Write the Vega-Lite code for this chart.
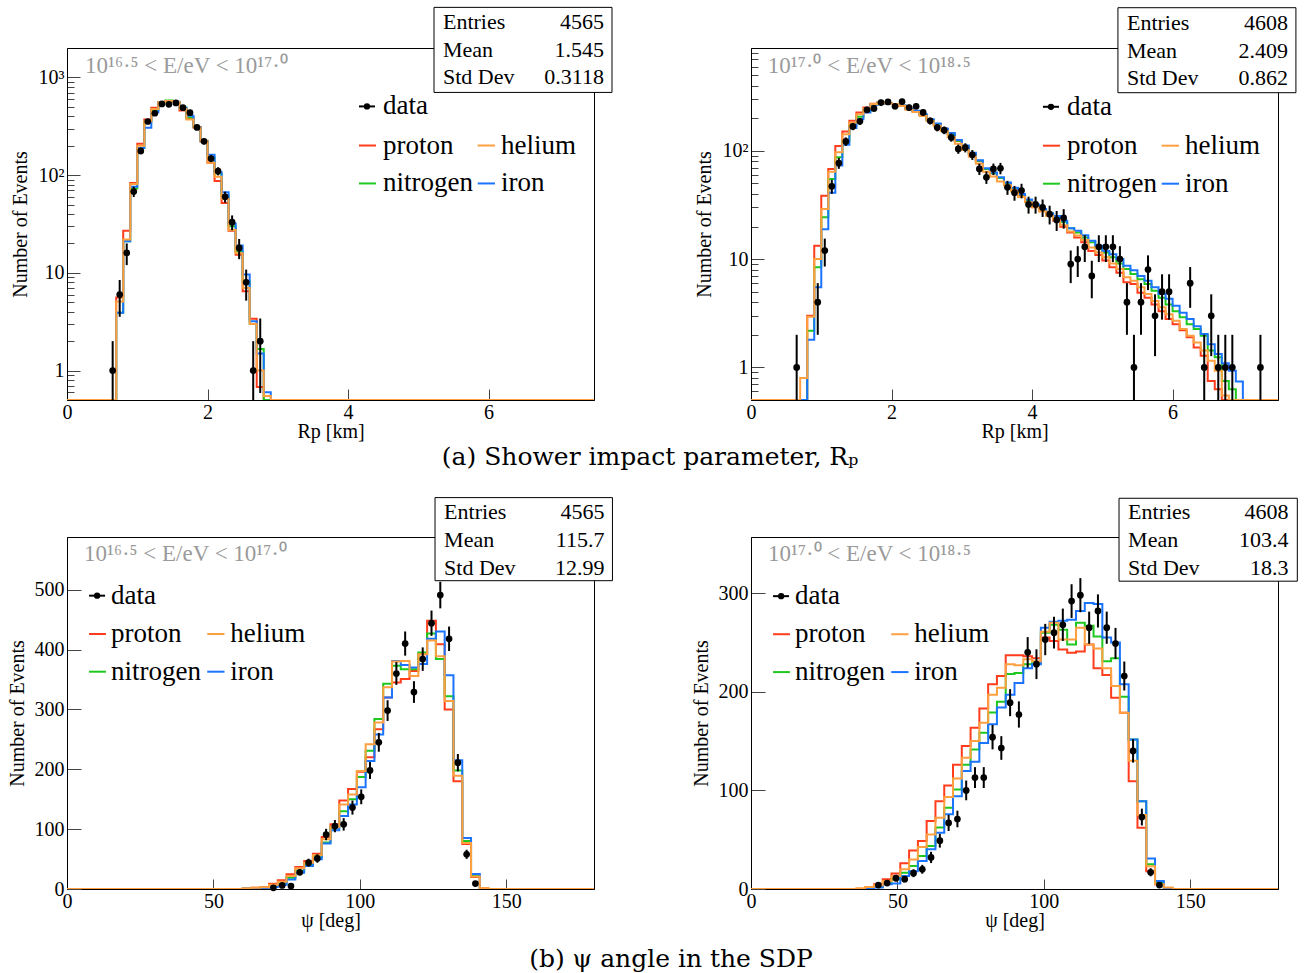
{
  "$schema": "https://vega.github.io/schema/vega-lite/v6.json",
  "background": "white",
  "padding": {"left": 6, "top": 6, "right": 8, "bottom": 5},
  "config": {
    "font": "Liberation Serif",
    "view": {"stroke": "#000", "strokeWidth": 1},
    "axis": {"labelFont": "Liberation Serif", "labelFontSize": 20, "labelColor": "#000", "titleFont": "Liberation Serif", "titleFontSize": 20, "titleFontWeight": "normal", "titleColor": "#000", "domainColor": "#000", "tickColor": "#444", "grid": false, "labelOverlap": false, "labelFlush": false},
    "text": {"font": "Liberation Serif"}
  },
  "datasets": {
    "one": [{}],
    "mc1": [
      {"x":0,"proton":null,"helium":null,"nitrogen":null,"iron":null},
      {"x":0.7,"proton":5.6,"helium":5.1,"nitrogen":3.9,"iron":3.9},
      {"x":0.8,"proton":27,"helium":22,"nitrogen":21,"iron":21},
      {"x":0.9,"proton":83,"helium":81,"nitrogen":73,"iron":76},
      {"x":1.0,"proton":210,"helium":200,"nitrogen":190,"iron":190},
      {"x":1.1,"proton":370,"helium":355,"nitrogen":350,"iron":305},
      {"x":1.2,"proton":490,"helium":475,"nitrogen":458,"iron":440},
      {"x":1.3,"proton":560,"helium":560,"nitrogen":555,"iron":560},
      {"x":1.4,"proton":575,"helium":575,"nitrogen":580,"iron":575},
      {"x":1.5,"proton":560,"helium":560,"nitrogen":560,"iron":565},
      {"x":1.6,"proton":458,"helium":475,"nitrogen":490,"iron":490},
      {"x":1.7,"proton":380,"helium":372,"nitrogen":390,"iron":405},
      {"x":1.8,"proton":307,"helium":307,"nitrogen":310,"iron":310},
      {"x":1.9,"proton":222,"helium":222,"nitrogen":225,"iron":222},
      {"x":2.0,"proton":134,"helium":134,"nitrogen":153,"iron":162},
      {"x":2.1,"proton":87,"helium":96,"nitrogen":104,"iron":107},
      {"x":2.2,"proton":52,"helium":57,"nitrogen":62,"iron":67},
      {"x":2.3,"proton":27,"helium":27.5,"nitrogen":30,"iron":32},
      {"x":2.4,"proton":15.3,"helium":15.9,"nitrogen":16.6,"iron":19},
      {"x":2.5,"proton":6.5,"helium":7,"nitrogen":8.2,"iron":9.6},
      {"x":2.6,"proton":3.4,"helium":3.0,"nitrogen":3.0,"iron":3.2},
      {"x":2.7,"proton":0.68,"helium":1.0,"nitrogen":1.66,"iron":1.5},
      {"x":2.8,"proton":null,"helium":0.55,"nitrogen":null,"iron":0.6},
      {"x":2.9,"proton":null,"helium":null,"nitrogen":null,"iron":null},
      {"x":7.5,"proton":null,"helium":null,"nitrogen":null,"iron":null}
    ],
    "d1": [
      {"x":0.65,"n":1,"lo":null,"hi":2},{"x":0.75,"n":6,"lo":3.55,"hi":8.45},{"x":0.85,"n":16,"lo":12,"hi":20},{"x":0.95,"n":68,"lo":59.8,"hi":76.2},{"x":1.05,"n":177,"lo":163.7,"hi":190.3},{"x":1.15,"n":354,"lo":335.2,"hi":372.8},{"x":1.25,"n":430,"lo":409.3,"hi":450.7},{"x":1.35,"n":535,"lo":511.9,"hi":558.1},{"x":1.45,"n":530,"lo":507,"hi":553},{"x":1.55,"n":548,"lo":524.6,"hi":571.4},{"x":1.65,"n":490,"lo":467.9,"hi":512.1},{"x":1.75,"n":436,"lo":415.1,"hi":456.9},{"x":1.85,"n":308,"lo":290.5,"hi":325.5},{"x":1.95,"n":222,"lo":207.1,"hi":236.9},{"x":2.05,"n":148,"lo":135.8,"hi":160.2},{"x":2.15,"n":110,"lo":99.5,"hi":120.5},{"x":2.25,"n":60,"lo":52.3,"hi":67.7},{"x":2.35,"n":33,"lo":27.3,"hi":38.7},{"x":2.45,"n":18,"lo":13.8,"hi":22.2},{"x":2.55,"n":8,"lo":5.2,"hi":10.8},{"x":2.65,"n":1,"lo":null,"hi":2},{"x":2.75,"n":2,"lo":0.59,"hi":3.41}
    ],
    "mc2": [
      {"x":0,"proton":null,"helium":null,"nitrogen":null,"iron":null},
      {"x":0.7,"proton":null,"helium":0.8,"nitrogen":null,"iron":null},
      {"x":0.8,"proton":3.0,"helium":2.93,"nitrogen":2.18,"iron":1.8},
      {"x":0.9,"proton":13.3,"helium":10,"nitrogen":8.4,"iron":5.5},
      {"x":1.0,"proton":38.4,"helium":29,"nitrogen":24.3,"iron":18.9},
      {"x":1.1,"proton":68,"helium":64,"nitrogen":55,"iron":41},
      {"x":1.2,"proton":111,"helium":97,"nitrogen":87,"iron":73},
      {"x":1.3,"proton":151,"helium":142,"nitrogen":124,"iron":114},
      {"x":1.4,"proton":189,"helium":183,"nitrogen":170,"iron":162},
      {"x":1.5,"proton":226,"helium":218,"nitrogen":206,"iron":196},
      {"x":1.6,"proton":251,"helium":246,"nitrogen":234,"iron":226},
      {"x":1.7,"proton":272,"helium":270,"nitrogen":268,"iron":266},
      {"x":1.8,"proton":280,"helium":279,"nitrogen":279,"iron":278},
      {"x":1.9,"proton":275,"helium":274,"nitrogen":273,"iron":272},
      {"x":2.0,"proton":270,"helium":270,"nitrogen":270,"iron":270},
      {"x":2.1,"proton":260,"helium":259,"nitrogen":261,"iron":262},
      {"x":2.2,"proton":242,"helium":240,"nitrogen":243,"iron":245},
      {"x":2.3,"proton":231,"helium":228,"nitrogen":232,"iron":234},
      {"x":2.4,"proton":214,"helium":210,"nitrogen":215,"iron":218},
      {"x":2.5,"proton":192,"helium":188,"nitrogen":193,"iron":196},
      {"x":2.6,"proton":176,"helium":170,"nitrogen":177,"iron":179},
      {"x":2.7,"proton":158,"helium":152,"nitrogen":159,"iron":161},
      {"x":2.8,"proton":142,"helium":134,"nitrogen":143,"iron":146},
      {"x":2.9,"proton":123,"helium":116,"nitrogen":124,"iron":126},
      {"x":3.0,"proton":109,"helium":102,"nitrogen":110,"iron":112},
      {"x":3.1,"proton":93,"helium":88,"nitrogen":94,"iron":96},
      {"x":3.2,"proton":80,"helium":76,"nitrogen":81,"iron":82},
      {"x":3.3,"proton":68,"helium":64,"nitrogen":68,"iron":69},
      {"x":3.4,"proton":62,"helium":58,"nitrogen":62,"iron":63},
      {"x":3.5,"proton":56,"helium":52,"nitrogen":56,"iron":57},
      {"x":3.6,"proton":50,"helium":48,"nitrogen":50,"iron":51},
      {"x":3.7,"proton":44,"helium":42,"nitrogen":45,"iron":45.5},
      {"x":3.8,"proton":39,"helium":37.5,"nitrogen":39.5,"iron":40},
      {"x":3.9,"proton":34.7,"helium":33.5,"nitrogen":35,"iron":35.5},
      {"x":4.0,"proton":31,"helium":30,"nitrogen":31.5,"iron":32},
      {"x":4.1,"proton":28,"helium":27.5,"nitrogen":28.5,"iron":29},
      {"x":4.2,"proton":25.5,"helium":25,"nitrogen":26,"iron":26.5},
      {"x":4.3,"proton":22.6,"helium":23,"nitrogen":24.5,"iron":25},
      {"x":4.4,"proton":19.9,"helium":20.5,"nitrogen":22,"iron":22.6},
      {"x":4.5,"proton":17.6,"helium":18,"nitrogen":19.3,"iron":19.3},
      {"x":4.6,"proton":15.8,"helium":16.5,"nitrogen":17.6,"iron":18.3},
      {"x":4.7,"proton":14.3,"helium":15,"nitrogen":15.8,"iron":16.6},
      {"x":4.8,"proton":11.9,"helium":12.8,"nitrogen":14.3,"iron":14.8},
      {"x":4.9,"proton":10.9,"helium":11.5,"nitrogen":12.6,"iron":13.3},
      {"x":5.0,"proton":9.7,"helium":10.4,"nitrogen":11.5,"iron":11.9},
      {"x":5.1,"proton":8.4,"helium":9.1,"nitrogen":10.4,"iron":11.1},
      {"x":5.2,"proton":7.5,"helium":8.1,"nitrogen":9.1,"iron":10},
      {"x":5.3,"proton":6.1,"helium":6.8,"nitrogen":8.1,"iron":8.7},
      {"x":5.4,"proton":5.9,"helium":6.3,"nitrogen":7.3,"iron":7.9},
      {"x":5.5,"proton":4.9,"helium":5.5,"nitrogen":6.5,"iron":7.0},
      {"x":5.6,"proton":4.4,"helium":4.75,"nitrogen":5.9,"iron":6.3},
      {"x":5.7,"proton":3.8,"helium":4.1,"nitrogen":5.1,"iron":5.5},
      {"x":5.8,"proton":3.3,"helium":3.6,"nitrogen":4.4,"iron":4.75},
      {"x":5.9,"proton":2.8,"helium":3.1,"nitrogen":3.8,"iron":4.3},
      {"x":6.0,"proton":2.5,"helium":2.7,"nitrogen":3.3,"iron":3.7},
      {"x":6.1,"proton":2.2,"helium":2.26,"nitrogen":2.9,"iron":3.2},
      {"x":6.2,"proton":1.9,"helium":1.96,"nitrogen":2.5,"iron":2.8},
      {"x":6.3,"proton":1.53,"helium":1.7,"nitrogen":2.26,"iron":2.4},
      {"x":6.4,"proton":1.28,"helium":1.43,"nitrogen":1.96,"iron":2.03},
      {"x":6.5,"proton":0.75,"helium":1.15,"nitrogen":1.43,"iron":1.64},
      {"x":6.6,"proton":0.63,"helium":0.93,"nitrogen":1.24,"iron":1.33},
      {"x":6.7,"proton":null,"helium":0.55,"nitrogen":0.75,"iron":1.09},
      {"x":6.8,"proton":null,"helium":null,"nitrogen":0.63,"iron":0.93},
      {"x":6.9,"proton":null,"helium":null,"nitrogen":null,"iron":0.74},
      {"x":7.0,"proton":null,"helium":null,"nitrogen":null,"iron":null},
      {"x":7.5,"proton":null,"helium":null,"nitrogen":null,"iron":null}
    ],
    "d2": [
      {"x":0.65,"n":1,"lo":null,"hi":2},{"x":0.95,"n":4,"lo":2,"hi":6},{"x":1.05,"n":12,"lo":8.54,"hi":15.46},{"x":1.15,"n":47,"lo":40.1,"hi":53.9},{"x":1.25,"n":77,"lo":68.2,"hi":85.8},{"x":1.35,"n":122,"lo":111,"hi":133},{"x":1.45,"n":168,"lo":155,"hi":181},{"x":1.55,"n":187,"lo":173.3,"hi":200.7},{"x":1.65,"n":239,"lo":223.5,"hi":254.5},{"x":1.75,"n":246,"lo":230.3,"hi":261.7},{"x":1.85,"n":279,"lo":262.3,"hi":295.7},{"x":1.95,"n":283,"lo":266.2,"hi":299.8},{"x":2.05,"n":258,"lo":241.9,"hi":274.1},{"x":2.15,"n":285,"lo":268.1,"hi":301.9},{"x":2.25,"n":251,"lo":235.2,"hi":266.8},{"x":2.35,"n":258,"lo":241.9,"hi":274.1},{"x":2.45,"n":226,"lo":211,"hi":241},{"x":2.55,"n":189,"lo":175.3,"hi":202.7},{"x":2.65,"n":164,"lo":151.2,"hi":176.8},{"x":2.75,"n":155,"lo":142.5,"hi":167.5},{"x":2.85,"n":133,"lo":121.5,"hi":144.5},{"x":2.95,"n":104,"lo":93.8,"hi":114.2},{"x":3.05,"n":107,"lo":96.7,"hi":117.3},{"x":3.15,"n":92,"lo":82.4,"hi":101.6},{"x":3.25,"n":68,"lo":59.8,"hi":76.2},{"x":3.35,"n":57,"lo":49.5,"hi":64.5},{"x":3.45,"n":68,"lo":59.8,"hi":76.2},{"x":3.55,"n":69,"lo":60.7,"hi":77.3},{"x":3.65,"n":46,"lo":39.2,"hi":52.8},{"x":3.75,"n":41,"lo":34.6,"hi":47.4},{"x":3.85,"n":43,"lo":36.4,"hi":49.6},{"x":3.95,"n":32,"lo":26.3,"hi":37.7},{"x":4.05,"n":32,"lo":26.3,"hi":37.7},{"x":4.15,"n":30,"lo":24.5,"hi":35.5},{"x":4.25,"n":26,"lo":20.9,"hi":31.1},{"x":4.35,"n":23,"lo":18.2,"hi":27.8},{"x":4.45,"n":24,"lo":19.1,"hi":28.9},{"x":4.55,"n":9,"lo":6,"hi":12},{"x":4.65,"n":10,"lo":6.84,"hi":13.16},{"x":4.75,"n":13,"lo":9.39,"hi":16.61},{"x":4.85,"n":7,"lo":4.35,"hi":9.65},{"x":4.95,"n":13,"lo":9.39,"hi":16.61},{"x":5.05,"n":13,"lo":9.39,"hi":16.61},{"x":5.15,"n":13,"lo":9.39,"hi":16.61},{"x":5.25,"n":10,"lo":6.84,"hi":13.16},{"x":5.35,"n":4,"lo":2,"hi":6},{"x":5.45,"n":1,"lo":null,"hi":2},{"x":5.55,"n":4,"lo":2,"hi":6},{"x":5.65,"n":8,"lo":5.17,"hi":10.83},{"x":5.75,"n":3,"lo":1.27,"hi":4.73},{"x":5.85,"n":5,"lo":2.76,"hi":7.24},{"x":5.95,"n":5,"lo":2.76,"hi":7.24},{"x":6.25,"n":6,"lo":3.55,"hi":8.45},{"x":6.45,"n":1,"lo":null,"hi":2},{"x":6.55,"n":3,"lo":1.27,"hi":4.73},{"x":6.65,"n":1,"lo":null,"hi":2},{"x":6.75,"n":1,"lo":null,"hi":2},{"x":6.85,"n":1,"lo":null,"hi":2},{"x":7.25,"n":1,"lo":null,"hi":2}
    ],
    "mc3": [
      {"x":0,"proton":0,"helium":0,"nitrogen":0,"iron":0},
      {"x":60,"proton":1,"helium":1,"nitrogen":0.5,"iron":0.3},
      {"x":63,"proton":2,"helium":2,"nitrogen":1,"iron":1},
      {"x":66,"proton":3,"helium":3,"nitrogen":2,"iron":1},
      {"x":69,"proton":8.9,"helium":7,"nitrogen":4.5,"iron":3.3},
      {"x":72,"proton":14.5,"helium":12.3,"nitrogen":8.9,"iron":7},
      {"x":75,"proton":24.5,"helium":21.7,"nitrogen":19,"iron":16},
      {"x":78,"proton":36.8,"helium":34.6,"nitrogen":30,"iron":27},
      {"x":81,"proton":46.8,"helium":44,"nitrogen":40,"iron":38.6},
      {"x":84,"proton":59,"helium":57,"nitrogen":52.5,"iron":49.7},
      {"x":87,"proton":87,"helium":83,"nitrogen":77.5,"iron":76},
      {"x":90,"proton":108,"helium":104,"nitrogen":103,"iron":98},
      {"x":93,"proton":148,"helium":141,"nitrogen":130,"iron":122},
      {"x":96,"proton":167,"helium":158,"nitrogen":150,"iron":141},
      {"x":99,"proton":196,"helium":197,"nitrogen":187,"iron":170},
      {"x":102,"proton":220,"helium":242,"nitrogen":231,"iron":214},
      {"x":105,"proton":267,"helium":278,"nitrogen":284,"iron":258},
      {"x":108,"proton":320,"helium":337,"nitrogen":343,"iron":320},
      {"x":111,"proton":345,"helium":380,"nitrogen":373,"iron":381},
      {"x":114,"proton":351,"helium":381,"nitrogen":367,"iron":374},
      {"x":117,"proton":364,"helium":356,"nitrogen":367,"iron":370},
      {"x":120,"proton":392,"helium":392,"nitrogen":395,"iron":376},
      {"x":123,"proton":448,"helium":415,"nitrogen":427,"iron":418},
      {"x":126,"proton":409,"helium":389,"nitrogen":384,"iron":430},
      {"x":129,"proton":300,"helium":314,"nitrogen":322,"iron":357},
      {"x":132,"proton":180,"helium":189,"nitrogen":198,"iron":215},
      {"x":135,"proton":75,"helium":77,"nitrogen":80,"iron":85},
      {"x":138,"proton":20,"helium":21,"nitrogen":22,"iron":25},
      {"x":141,"proton":0,"helium":1.5,"nitrogen":0,"iron":0},
      {"x":144,"proton":0,"helium":0,"nitrogen":0,"iron":0},
      {"x":180,"proton":0,"helium":0,"nitrogen":0,"iron":0}
    ],
    "d3": [
      {"x":70.5,"n":2,"lo":0.59,"hi":3.41},{"x":73.5,"n":6,"lo":3.55,"hi":8.45},{"x":76.5,"n":5,"lo":2.76,"hi":7.24},{"x":79.5,"n":28,"lo":22.7,"hi":33.3},{"x":82.5,"n":44,"lo":37.4,"hi":50.6},{"x":85.5,"n":51,"lo":43.9,"hi":58.1},{"x":88.5,"n":91,"lo":81.5,"hi":100.5},{"x":91.5,"n":105,"lo":94.8,"hi":115.2},{"x":94.5,"n":108,"lo":97.6,"hi":118.4},{"x":97.5,"n":136,"lo":124.3,"hi":147.7},{"x":100.5,"n":154,"lo":141.6,"hi":166.4},{"x":103.5,"n":198,"lo":183.9,"hi":212.1},{"x":106.5,"n":245,"lo":229.3,"hi":260.7},{"x":109.5,"n":298,"lo":280.7,"hi":315.3},{"x":112.5,"n":360,"lo":341,"hi":379},{"x":115.5,"n":410,"lo":389.8,"hi":430.2},{"x":118.5,"n":329,"lo":310.9,"hi":347.1},{"x":121.5,"n":384,"lo":364.4,"hi":403.6},{"x":124.5,"n":444,"lo":422.9,"hi":465.1},{"x":127.5,"n":491,"lo":468.8,"hi":513.2},{"x":130.5,"n":418,"lo":397.6,"hi":438.4},{"x":133.5,"n":211,"lo":196.5,"hi":225.5},{"x":136.5,"n":58,"lo":50.4,"hi":65.6},{"x":139.5,"n":9,"lo":6,"hi":12}
    ],
    "mc4": [
      {"x":0,"proton":0,"helium":0,"nitrogen":0,"iron":0},
      {"x":36,"proton":0,"helium":0.7,"nitrogen":0,"iron":0},
      {"x":39,"proton":1.3,"helium":2,"nitrogen":0.5,"iron":0.5},
      {"x":42,"proton":4.7,"helium":3.7,"nitrogen":2,"iron":1.4},
      {"x":45,"proton":9.8,"helium":8,"nitrogen":5.4,"iron":4.7},
      {"x":48,"proton":15.8,"helium":13.2,"nitrogen":9.8,"iron":5.7},
      {"x":51,"proton":26,"helium":20,"nitrogen":16.5,"iron":13.2},
      {"x":54,"proton":39,"helium":30,"nitrogen":23.4,"iron":18},
      {"x":57,"proton":48.6,"helium":42.6,"nitrogen":33.5,"iron":28.4},
      {"x":60,"proton":69,"helium":55.4,"nitrogen":43.6,"iron":40.3},
      {"x":63,"proton":89,"helium":72.3,"nitrogen":62.3,"iron":57},
      {"x":66,"proton":105,"helium":93.2,"nitrogen":82.4,"iron":75.7},
      {"x":69,"proton":126,"helium":112,"nitrogen":101,"iron":94},
      {"x":72,"proton":145,"helium":133,"nitrogen":126,"iron":119.6},
      {"x":75,"proton":163.5,"helium":150,"nitrogen":141.6,"iron":129},
      {"x":78,"proton":183,"helium":168.6,"nitrogen":158.5,"iron":148},
      {"x":81,"proton":207.6,"helium":197,"nitrogen":179,"iron":167},
      {"x":84,"proton":216,"helium":204,"nitrogen":190,"iron":184},
      {"x":87,"proton":237,"helium":228,"nitrogen":218,"iron":197},
      {"x":90,"proton":237,"helium":227,"nitrogen":219,"iron":209},
      {"x":93,"proton":236,"helium":233,"nitrogen":228,"iron":224},
      {"x":96,"proton":234,"helium":231,"nitrogen":229,"iron":228},
      {"x":99,"proton":255,"helium":261,"nitrogen":260,"iron":265},
      {"x":102,"proton":251.5,"helium":270,"nitrogen":268,"iron":271},
      {"x":105,"proton":243,"helium":253,"nitrogen":263,"iron":272},
      {"x":108,"proton":239.5,"helium":253,"nitrogen":248,"iron":273},
      {"x":111,"proton":241,"helium":265,"nitrogen":270,"iron":282},
      {"x":114,"proton":248,"helium":248,"nitrogen":267,"iron":290},
      {"x":117,"proton":224,"helium":244,"nitrogen":256,"iron":289},
      {"x":120,"proton":217,"helium":224,"nitrogen":231,"iron":255},
      {"x":123,"proton":194,"helium":206,"nitrogen":234,"iron":250},
      {"x":126,"proton":178.7,"helium":178.7,"nitrogen":195,"iron":207.6},
      {"x":129,"proton":109.4,"helium":130,"nitrogen":151.5,"iron":151.5},
      {"x":132,"proton":62,"helium":75,"nitrogen":89,"iron":89},
      {"x":135,"proton":18,"helium":23,"nitrogen":25,"iron":31},
      {"x":138,"proton":4.7,"helium":4.7,"nitrogen":6.4,"iron":8},
      {"x":141,"proton":0.5,"helium":1.4,"nitrogen":0.5,"iron":0.5},
      {"x":144,"proton":0,"helium":0,"nitrogen":0,"iron":0},
      {"x":180,"proton":0,"helium":0,"nitrogen":0,"iron":0}
    ],
    "d4": [
      {"x":43.5,"n":4,"lo":2,"hi":6},{"x":46.5,"n":6,"lo":3.55,"hi":8.45},{"x":49.5,"n":11,"lo":7.68,"hi":14.32},{"x":52.5,"n":10,"lo":6.84,"hi":13.16},{"x":55.5,"n":16,"lo":12,"hi":20},{"x":58.5,"n":20,"lo":15.5,"hi":24.5},{"x":61.5,"n":32,"lo":26.3,"hi":37.7},{"x":64.5,"n":49,"lo":42,"hi":56},{"x":67.5,"n":67,"lo":58.8,"hi":75.2},{"x":70.5,"n":71,"lo":62.6,"hi":79.4},{"x":73.5,"n":100,"lo":90,"hi":110},{"x":76.5,"n":113,"lo":102.4,"hi":123.6},{"x":79.5,"n":113,"lo":102.4,"hi":123.6},{"x":82.5,"n":154,"lo":141.6,"hi":166.4},{"x":85.5,"n":143,"lo":131,"hi":155},{"x":88.5,"n":189,"lo":175.3,"hi":202.7},{"x":91.5,"n":177,"lo":163.7,"hi":190.3},{"x":94.5,"n":240,"lo":224.5,"hi":255.5},{"x":97.5,"n":228,"lo":212.9,"hi":243.1},{"x":100.5,"n":253,"lo":237.1,"hi":268.9},{"x":103.5,"n":260,"lo":243.9,"hi":276.1},{"x":106.5,"n":268,"lo":251.6,"hi":284.4},{"x":109.5,"n":292,"lo":274.9,"hi":309.1},{"x":112.5,"n":298,"lo":280.7,"hi":315.3},{"x":115.5,"n":265,"lo":248.7,"hi":281.3},{"x":118.5,"n":282,"lo":265.2,"hi":298.8},{"x":121.5,"n":265,"lo":248.7,"hi":281.3},{"x":124.5,"n":249,"lo":233.2,"hi":264.8},{"x":127.5,"n":216,"lo":201.3,"hi":230.7},{"x":130.5,"n":140,"lo":128.2,"hi":151.8},{"x":133.5,"n":73,"lo":64.5,"hi":81.5},{"x":136.5,"n":17,"lo":12.9,"hi":21.1},{"x":139.5,"n":4,"lo":2,"hi":6}
    ]
  },
  "columns": 2,
  "bounds": "flush",
  "spacing": {"row": 137, "column": 157},
  "concat": [
    {
      "width": 527, "height": 352,
      "data": {"name": "one"},
      "layer": [
        {
          "data": {"name": "mc1"},
          "transform": [{"fold": ["proton", "nitrogen", "iron", "helium"], "as": ["m", "n"]}],
          "mark": {"type": "line", "interpolate": "step-after", "strokeWidth": 2, "invalid": "show", "clip": true},
          "encoding": {
            "x": {"field": "x", "type": "quantitative", "scale": {"domain": [0, 7.5], "nice": false, "zero": false}, "axis": {"values": [0, 2, 4, 6], "format": "d", "tickSize": -11, "labelPadding": 13, "title": "Rp [km]", "titlePadding": -1}},
            "y": {"field": "n", "type": "quantitative", "scale": {"type": "log", "domain": [0.5, 2000], "nice": false}, "axis": {"values": [0.6,0.7,0.8,0.9,1,2,3,4,5,6,7,8,9,10,20,30,40,50,60,70,80,90,100,200,300,400,500,600,700,800,900,1000], "labelExpr": "datum.value == 1000 ? '10³' : datum.value == 100 ? '10²' : datum.value == 10 ? '10' : datum.value == 1 ? '1' : ''", "tickSize": {"condition": {"test": "datum.value == 1 || datum.value == 10 || datum.value == 100 || datum.value == 1000", "value": -13}, "value": -7}, "labelPadding": 16, "title": "Number of Events", "titlePadding": 8}},
            "color": {"field": "m", "type": "nominal", "scale": {"domain": ["proton", "helium", "nitrogen", "iron"], "range": ["#ff3c1c", "#ffa040", "#1ec81e", "#1a74ff"]}, "legend": null}
          }
        },
        {
          "data": {"name": "d1"},
          "mark": {"type": "rule", "color": "#000", "strokeWidth": 2, "invalid": "show", "clip": true},
          "encoding": {"x": {"field": "x", "type": "quantitative"}, "y": {"field": "lo", "type": "quantitative"}, "y2": {"field": "hi"}}
        },
        {
          "data": {"name": "d1"},
          "mark": {"type": "point", "filled": true, "shape": "circle", "size": 45, "color": "#000", "opacity": 1},
          "encoding": {"x": {"field": "x", "type": "quantitative"}, "y": {"field": "n", "type": "quantitative"}}
        },
        {"mark": {"type": "text", "text": "10¹⁶·⁵ < E/eV < 10¹⁷·⁰", "align": "left", "baseline": "middle", "fontSize": 23, "color": "#9a9a9a"}, "encoding": {"x": {"datum": 0.256}, "y": {"datum": 1320}}},
        {"mark": {"type": "rect", "fill": "#fff", "stroke": "#000", "strokeWidth": 1}, "encoding": {"x": {"datum": 5.223}, "x2": {"datum": 7.756}, "y": {"datum": 5210}, "y2": {"datum": 702}}},
        {"mark": {"type": "text", "text": "Entries", "align": "left", "baseline": "middle", "fontSize": 22}, "encoding": {"x": {"datum": 5.351}, "y": {"datum": 3656}}},
        {"mark": {"type": "text", "text": "Mean", "align": "left", "baseline": "middle", "fontSize": 22}, "encoding": {"x": {"datum": 5.351}, "y": {"datum": 1890}}},
        {"mark": {"type": "text", "text": "Std Dev", "align": "left", "baseline": "middle", "fontSize": 22}, "encoding": {"x": {"datum": 5.351}, "y": {"datum": 1000}}},
        {"mark": {"type": "text", "text": "4565", "align": "right", "baseline": "middle", "fontSize": 22}, "encoding": {"x": {"datum": 7.642}, "y": {"datum": 3656}}},
        {"mark": {"type": "text", "text": "1.545", "align": "right", "baseline": "middle", "fontSize": 22}, "encoding": {"x": {"datum": 7.642}, "y": {"datum": 1890}}},
        {"mark": {"type": "text", "text": "0.3118", "align": "right", "baseline": "middle", "fontSize": 22}, "encoding": {"x": {"datum": 7.642}, "y": {"datum": 1000}}},
        {"mark": {"type": "rule", "color": "#000", "strokeWidth": 2}, "encoding": {"x": {"datum": 4.155}, "x2": {"datum": 4.383}, "y": {"datum": 505}}},
        {"mark": {"type": "point", "filled": true, "shape": "circle", "size": 40, "color": "#000", "opacity": 1}, "encoding": {"x": {"datum": 4.269}, "y": {"datum": 505}}},
        {"mark": {"type": "text", "text": "data", "align": "left", "baseline": "middle", "fontSize": 27}, "encoding": {"x": {"datum": 4.497}, "y": {"datum": 505}}},
        {"mark": {"type": "rule", "color": "#ff3c1c", "strokeWidth": 2}, "encoding": {"x": {"datum": 4.155}, "x2": {"datum": 4.397}, "y": {"datum": 201}}},
        {"mark": {"type": "text", "text": "proton", "align": "left", "baseline": "middle", "fontSize": 27}, "encoding": {"x": {"datum": 4.497}, "y": {"datum": 201}}},
        {"mark": {"type": "rule", "color": "#ffa040", "strokeWidth": 2}, "encoding": {"x": {"datum": 5.845}, "x2": {"datum": 6.091}, "y": {"datum": 201}}},
        {"mark": {"type": "text", "text": "helium", "align": "left", "baseline": "middle", "fontSize": 27}, "encoding": {"x": {"datum": 6.176}, "y": {"datum": 201}}},
        {"mark": {"type": "rule", "color": "#1ec81e", "strokeWidth": 2}, "encoding": {"x": {"datum": 4.155}, "x2": {"datum": 4.397}, "y": {"datum": 82.2}}},
        {"mark": {"type": "text", "text": "nitrogen", "align": "left", "baseline": "middle", "fontSize": 27}, "encoding": {"x": {"datum": 4.497}, "y": {"datum": 82.2}}},
        {"mark": {"type": "rule", "color": "#1a74ff", "strokeWidth": 2}, "encoding": {"x": {"datum": 5.845}, "x2": {"datum": 6.091}, "y": {"datum": 82.2}}},
        {"mark": {"type": "text", "text": "iron", "align": "left", "baseline": "middle", "fontSize": 27}, "encoding": {"x": {"datum": 6.176}, "y": {"datum": 82.2}}},
        {"mark": {"type": "text", "text": "(a) Shower impact parameter, Rₚ", "align": "center", "baseline": "middle", "font": "DejaVu Serif", "fontSize": 25}, "encoding": {"x": {"datum": 8.297}, "y": {"datum": 0.1317}}}
      ]
    },
    {
      "width": 527, "height": 352,
      "data": {"name": "one"},
      "layer": [
        {
          "data": {"name": "mc2"},
          "transform": [{"fold": ["proton", "nitrogen", "iron", "helium"], "as": ["m", "n"]}],
          "mark": {"type": "line", "interpolate": "step-after", "strokeWidth": 2, "invalid": "show", "clip": true},
          "encoding": {
            "x": {"field": "x", "type": "quantitative", "scale": {"domain": [0, 7.5], "nice": false, "zero": false}, "axis": {"values": [0, 2, 4, 6], "format": "d", "tickSize": -11, "labelPadding": 13, "title": "Rp [km]", "titlePadding": -1}},
            "y": {"field": "n", "type": "quantitative", "scale": {"type": "log", "domain": [0.5, 890], "nice": false}, "axis": {"values": [0.6,0.7,0.8,0.9,1,2,3,4,5,6,7,8,9,10,20,30,40,50,60,70,80,90,100,200,300,400,500,600,700,800], "labelExpr": "datum.value == 100 ? '10²' : datum.value == 10 ? '10' : datum.value == 1 ? '1' : ''", "tickSize": {"condition": {"test": "datum.value == 1 || datum.value == 10 || datum.value == 100", "value": -13}, "value": -7}, "labelPadding": 16, "title": "Number of Events", "titlePadding": 8}},
            "color": {"field": "m", "type": "nominal", "scale": {"domain": ["proton", "helium", "nitrogen", "iron"], "range": ["#ff3c1c", "#ffa040", "#1ec81e", "#1a74ff"]}, "legend": null}
          }
        },
        {
          "data": {"name": "d2"},
          "mark": {"type": "rule", "color": "#000", "strokeWidth": 2, "invalid": "show", "clip": true},
          "encoding": {"x": {"field": "x", "type": "quantitative"}, "y": {"field": "lo", "type": "quantitative"}, "y2": {"field": "hi"}}
        },
        {
          "data": {"name": "d2"},
          "mark": {"type": "point", "filled": true, "shape": "circle", "size": 45, "color": "#000", "opacity": 1},
          "encoding": {"x": {"field": "x", "type": "quantitative"}, "y": {"field": "n", "type": "quantitative"}}
        },
        {"mark": {"type": "text", "text": "10¹⁷·⁰ < E/eV < 10¹⁸·⁵", "align": "left", "baseline": "middle", "fontSize": 23, "color": "#9a9a9a"}, "encoding": {"x": {"datum": 0.24}, "y": {"datum": 611}}},
        {"mark": {"type": "rect", "fill": "#fff", "stroke": "#000", "strokeWidth": 1}, "encoding": {"x": {"datum": 5.222}, "x2": {"datum": 7.755}, "y": {"datum": 2096}, "y2": {"datum": 344}}},
        {"mark": {"type": "text", "text": "Entries", "align": "left", "baseline": "middle", "fontSize": 22}, "encoding": {"x": {"datum": 5.351}, "y": {"datum": 1523}}},
        {"mark": {"type": "text", "text": "Mean", "align": "left", "baseline": "middle", "fontSize": 22}, "encoding": {"x": {"datum": 5.351}, "y": {"datum": 840}}},
        {"mark": {"type": "text", "text": "Std Dev", "align": "left", "baseline": "middle", "fontSize": 22}, "encoding": {"x": {"datum": 5.351}, "y": {"datum": 473}}},
        {"mark": {"type": "text", "text": "4608", "align": "right", "baseline": "middle", "fontSize": 22}, "encoding": {"x": {"datum": 7.642}, "y": {"datum": 1523}}},
        {"mark": {"type": "text", "text": "2.409", "align": "right", "baseline": "middle", "fontSize": 22}, "encoding": {"x": {"datum": 7.642}, "y": {"datum": 840}}},
        {"mark": {"type": "text", "text": "0.862", "align": "right", "baseline": "middle", "fontSize": 22}, "encoding": {"x": {"datum": 7.642}, "y": {"datum": 473}}},
        {"mark": {"type": "rule", "color": "#000", "strokeWidth": 2}, "encoding": {"x": {"datum": 4.155}, "x2": {"datum": 4.383}, "y": {"datum": 255}}},
        {"mark": {"type": "point", "filled": true, "shape": "circle", "size": 40, "color": "#000", "opacity": 1}, "encoding": {"x": {"datum": 4.269}, "y": {"datum": 255}}},
        {"mark": {"type": "text", "text": "data", "align": "left", "baseline": "middle", "fontSize": 27}, "encoding": {"x": {"datum": 4.497}, "y": {"datum": 255}}},
        {"mark": {"type": "rule", "color": "#ff3c1c", "strokeWidth": 2}, "encoding": {"x": {"datum": 4.155}, "x2": {"datum": 4.397}, "y": {"datum": 111.5}}},
        {"mark": {"type": "text", "text": "proton", "align": "left", "baseline": "middle", "fontSize": 27}, "encoding": {"x": {"datum": 4.497}, "y": {"datum": 111.5}}},
        {"mark": {"type": "rule", "color": "#ffa040", "strokeWidth": 2}, "encoding": {"x": {"datum": 5.845}, "x2": {"datum": 6.091}, "y": {"datum": 111.5}}},
        {"mark": {"type": "text", "text": "helium", "align": "left", "baseline": "middle", "fontSize": 27}, "encoding": {"x": {"datum": 6.176}, "y": {"datum": 111.5}}},
        {"mark": {"type": "rule", "color": "#1ec81e", "strokeWidth": 2}, "encoding": {"x": {"datum": 4.155}, "x2": {"datum": 4.397}, "y": {"datum": 49.7}}},
        {"mark": {"type": "text", "text": "nitrogen", "align": "left", "baseline": "middle", "fontSize": 27}, "encoding": {"x": {"datum": 4.497}, "y": {"datum": 49.7}}},
        {"mark": {"type": "rule", "color": "#1a74ff", "strokeWidth": 2}, "encoding": {"x": {"datum": 5.845}, "x2": {"datum": 6.091}, "y": {"datum": 49.7}}},
        {"mark": {"type": "text", "text": "iron", "align": "left", "baseline": "middle", "fontSize": 27}, "encoding": {"x": {"datum": 6.176}, "y": {"datum": 49.7}}}
      ]
    },
    {
      "width": 527, "height": 352,
      "data": {"name": "one"},
      "layer": [
        {
          "data": {"name": "mc3"},
          "transform": [{"fold": ["proton", "nitrogen", "iron", "helium"], "as": ["m", "n"]}],
          "mark": {"type": "line", "interpolate": "step-after", "strokeWidth": 2, "clip": true},
          "encoding": {
            "x": {"field": "x", "type": "quantitative", "scale": {"domain": [0, 180], "nice": false, "zero": false}, "axis": {"values": [0, 50, 100, 150], "tickSize": -10, "labelPadding": 12, "title": "ψ [deg]", "titlePadding": -1}},
            "y": {"field": "n", "type": "quantitative", "scale": {"domain": [0, 588], "nice": false}, "axis": {"values": [0, 100, 200, 300, 400, 500], "tickSize": -14, "labelPadding": 17, "title": "Number of Events", "titlePadding": 7}},
            "color": {"field": "m", "type": "nominal", "scale": {"domain": ["proton", "helium", "nitrogen", "iron"], "range": ["#ff3c1c", "#ffa040", "#1ec81e", "#1a74ff"]}, "legend": null}
          }
        },
        {
          "data": {"name": "d3"},
          "mark": {"type": "rule", "color": "#000", "strokeWidth": 2, "clip": true},
          "encoding": {"x": {"field": "x", "type": "quantitative"}, "y": {"field": "lo", "type": "quantitative"}, "y2": {"field": "hi"}}
        },
        {
          "data": {"name": "d3"},
          "mark": {"type": "point", "filled": true, "shape": "circle", "size": 45, "color": "#000", "opacity": 1},
          "encoding": {"x": {"field": "x", "type": "quantitative"}, "y": {"field": "n", "type": "quantitative"}}
        },
        {"mark": {"type": "text", "text": "10¹⁶·⁵ < E/eV < 10¹⁷·⁰", "align": "left", "baseline": "middle", "fontSize": 23, "color": "#9a9a9a"}, "encoding": {"x": {"datum": 5.8}, "y": {"datum": 560}}},
        {"mark": {"type": "rect", "fill": "#fff", "stroke": "#000", "strokeWidth": 1}, "encoding": {"x": {"datum": 125.7}, "x2": {"datum": 186.3}, "y": {"datum": 653.8}, "y2": {"datum": 515}}},
        {"mark": {"type": "text", "text": "Entries", "align": "left", "baseline": "middle", "fontSize": 22}, "encoding": {"x": {"datum": 128.8}, "y": {"datum": 630.4}}},
        {"mark": {"type": "text", "text": "Mean", "align": "left", "baseline": "middle", "fontSize": 22}, "encoding": {"x": {"datum": 128.8}, "y": {"datum": 583.6}}},
        {"mark": {"type": "text", "text": "Std Dev", "align": "left", "baseline": "middle", "fontSize": 22}, "encoding": {"x": {"datum": 128.8}, "y": {"datum": 536.8}}},
        {"mark": {"type": "text", "text": "4565", "align": "right", "baseline": "middle", "fontSize": 22}, "encoding": {"x": {"datum": 183.6}, "y": {"datum": 630.4}}},
        {"mark": {"type": "text", "text": "115.7", "align": "right", "baseline": "middle", "fontSize": 22}, "encoding": {"x": {"datum": 183.6}, "y": {"datum": 583.6}}},
        {"mark": {"type": "text", "text": "12.99", "align": "right", "baseline": "middle", "fontSize": 22}, "encoding": {"x": {"datum": 183.6}, "y": {"datum": 536.8}}},
        {"mark": {"type": "rule", "color": "#000", "strokeWidth": 2}, "encoding": {"x": {"datum": 7.53}, "x2": {"datum": 13.0}, "y": {"datum": 490}}},
        {"mark": {"type": "point", "filled": true, "shape": "circle", "size": 40, "color": "#000", "opacity": 1}, "encoding": {"x": {"datum": 10.3}, "y": {"datum": 490}}},
        {"mark": {"type": "text", "text": "data", "align": "left", "baseline": "middle", "fontSize": 27}, "encoding": {"x": {"datum": 15.07}, "y": {"datum": 490}}},
        {"mark": {"type": "rule", "color": "#ff3c1c", "strokeWidth": 2}, "encoding": {"x": {"datum": 7.53}, "x2": {"datum": 13.3}, "y": {"datum": 426}}},
        {"mark": {"type": "text", "text": "proton", "align": "left", "baseline": "middle", "fontSize": 27}, "encoding": {"x": {"datum": 15.07}, "y": {"datum": 426}}},
        {"mark": {"type": "rule", "color": "#ffa040", "strokeWidth": 2}, "encoding": {"x": {"datum": 47.9}, "x2": {"datum": 53.8}, "y": {"datum": 426}}},
        {"mark": {"type": "text", "text": "helium", "align": "left", "baseline": "middle", "fontSize": 27}, "encoding": {"x": {"datum": 55.8}, "y": {"datum": 426}}},
        {"mark": {"type": "rule", "color": "#1ec81e", "strokeWidth": 2}, "encoding": {"x": {"datum": 7.53}, "x2": {"datum": 13.3}, "y": {"datum": 363}}},
        {"mark": {"type": "text", "text": "nitrogen", "align": "left", "baseline": "middle", "fontSize": 27}, "encoding": {"x": {"datum": 15.07}, "y": {"datum": 363}}},
        {"mark": {"type": "rule", "color": "#1a74ff", "strokeWidth": 2}, "encoding": {"x": {"datum": 47.9}, "x2": {"datum": 53.8}, "y": {"datum": 363}}},
        {"mark": {"type": "text", "text": "iron", "align": "left", "baseline": "middle", "fontSize": 27}, "encoding": {"x": {"datum": 55.8}, "y": {"datum": 363}}},
        {"mark": {"type": "text", "text": "(b) ψ angle in the SDP", "align": "center", "baseline": "middle", "font": "DejaVu Serif", "fontSize": 25}, "encoding": {"x": {"datum": 206.3}, "y": {"datum": -117}}}
      ]
    },
    {
      "width": 527, "height": 352,
      "data": {"name": "one"},
      "layer": [
        {
          "data": {"name": "mc4"},
          "transform": [{"fold": ["proton", "nitrogen", "iron", "helium"], "as": ["m", "n"]}],
          "mark": {"type": "line", "interpolate": "step-after", "strokeWidth": 2, "clip": true},
          "encoding": {
            "x": {"field": "x", "type": "quantitative", "scale": {"domain": [0, 180], "nice": false, "zero": false}, "axis": {"values": [0, 50, 100, 150], "tickSize": -10, "labelPadding": 12, "title": "ψ [deg]", "titlePadding": -1}},
            "y": {"field": "n", "type": "quantitative", "scale": {"domain": [0, 357], "nice": false}, "axis": {"values": [0, 100, 200, 300], "tickSize": -14, "labelPadding": 17, "title": "Number of Events", "titlePadding": 7}},
            "color": {"field": "m", "type": "nominal", "scale": {"domain": ["proton", "helium", "nitrogen", "iron"], "range": ["#ff3c1c", "#ffa040", "#1ec81e", "#1a74ff"]}, "legend": null}
          }
        },
        {
          "data": {"name": "d4"},
          "mark": {"type": "rule", "color": "#000", "strokeWidth": 2, "clip": true},
          "encoding": {"x": {"field": "x", "type": "quantitative"}, "y": {"field": "lo", "type": "quantitative"}, "y2": {"field": "hi"}}
        },
        {
          "data": {"name": "d4"},
          "mark": {"type": "point", "filled": true, "shape": "circle", "size": 45, "color": "#000", "opacity": 1},
          "encoding": {"x": {"field": "x", "type": "quantitative"}, "y": {"field": "n", "type": "quantitative"}}
        },
        {"mark": {"type": "text", "text": "10¹⁷·⁰ < E/eV < 10¹⁸·⁵", "align": "left", "baseline": "middle", "fontSize": 23, "color": "#9a9a9a"}, "encoding": {"x": {"datum": 5.8}, "y": {"datum": 339.5}}},
        {"mark": {"type": "rect", "fill": "#fff", "stroke": "#000", "strokeWidth": 1}, "encoding": {"x": {"datum": 125.7}, "x2": {"datum": 186.6}, "y": {"datum": 396.3}, "y2": {"datum": 312.2}}},
        {"mark": {"type": "text", "text": "Entries", "align": "left", "baseline": "middle", "fontSize": 22}, "encoding": {"x": {"datum": 128.8}, "y": {"datum": 382}}},
        {"mark": {"type": "text", "text": "Mean", "align": "left", "baseline": "middle", "fontSize": 22}, "encoding": {"x": {"datum": 128.8}, "y": {"datum": 353.7}}},
        {"mark": {"type": "text", "text": "Std Dev", "align": "left", "baseline": "middle", "fontSize": 22}, "encoding": {"x": {"datum": 128.8}, "y": {"datum": 325.3}}},
        {"mark": {"type": "text", "text": "4608", "align": "right", "baseline": "middle", "fontSize": 22}, "encoding": {"x": {"datum": 183.6}, "y": {"datum": 382}}},
        {"mark": {"type": "text", "text": "103.4", "align": "right", "baseline": "middle", "fontSize": 22}, "encoding": {"x": {"datum": 183.6}, "y": {"datum": 353.7}}},
        {"mark": {"type": "text", "text": "18.3", "align": "right", "baseline": "middle", "fontSize": 22}, "encoding": {"x": {"datum": 183.6}, "y": {"datum": 325.3}}},
        {"mark": {"type": "rule", "color": "#000", "strokeWidth": 2}, "encoding": {"x": {"datum": 7.53}, "x2": {"datum": 13.0}, "y": {"datum": 297}}},
        {"mark": {"type": "point", "filled": true, "shape": "circle", "size": 40, "color": "#000", "opacity": 1}, "encoding": {"x": {"datum": 10.3}, "y": {"datum": 297}}},
        {"mark": {"type": "text", "text": "data", "align": "left", "baseline": "middle", "fontSize": 27}, "encoding": {"x": {"datum": 15.07}, "y": {"datum": 297}}},
        {"mark": {"type": "rule", "color": "#ff3c1c", "strokeWidth": 2}, "encoding": {"x": {"datum": 7.53}, "x2": {"datum": 13.3}, "y": {"datum": 258.4}}},
        {"mark": {"type": "text", "text": "proton", "align": "left", "baseline": "middle", "fontSize": 27}, "encoding": {"x": {"datum": 15.07}, "y": {"datum": 258.4}}},
        {"mark": {"type": "rule", "color": "#ffa040", "strokeWidth": 2}, "encoding": {"x": {"datum": 47.9}, "x2": {"datum": 53.8}, "y": {"datum": 258.4}}},
        {"mark": {"type": "text", "text": "helium", "align": "left", "baseline": "middle", "fontSize": 27}, "encoding": {"x": {"datum": 55.8}, "y": {"datum": 258.4}}},
        {"mark": {"type": "rule", "color": "#1ec81e", "strokeWidth": 2}, "encoding": {"x": {"datum": 7.53}, "x2": {"datum": 13.3}, "y": {"datum": 220}}},
        {"mark": {"type": "text", "text": "nitrogen", "align": "left", "baseline": "middle", "fontSize": 27}, "encoding": {"x": {"datum": 15.07}, "y": {"datum": 220}}},
        {"mark": {"type": "rule", "color": "#1a74ff", "strokeWidth": 2}, "encoding": {"x": {"datum": 47.9}, "x2": {"datum": 53.8}, "y": {"datum": 220}}},
        {"mark": {"type": "text", "text": "iron", "align": "left", "baseline": "middle", "fontSize": 27}, "encoding": {"x": {"datum": 55.8}, "y": {"datum": 220}}}
      ]
    }
  ]
}
